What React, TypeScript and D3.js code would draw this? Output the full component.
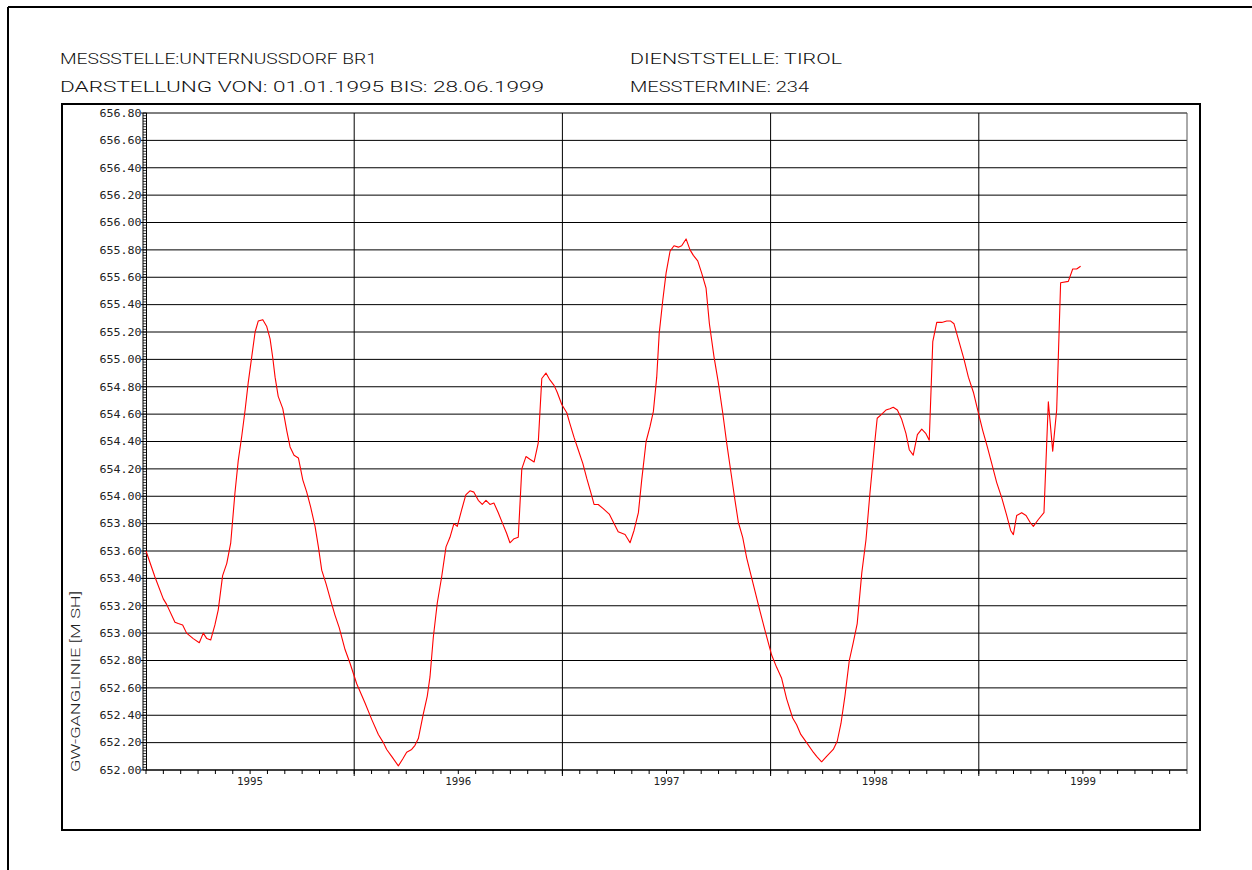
import React from "react";
import * as d3 from "d3";

// ---- data (decimal year, groundwater level in m ü.A.) ----
const measureYears: number[] = [
  1995.0, 1995.043, 1995.083, 1995.099, 1995.139, 1995.155, 1995.176, 1995.195, 1995.227, 1995.256,
  1995.275, 1995.292, 1995.311, 1995.331, 1995.347, 1995.368, 1995.388, 1995.407, 1995.427, 1995.443,
  1995.46, 1995.476, 1995.491, 1995.508, 1995.524, 1995.539, 1995.561, 1995.58, 1995.596, 1995.609,
  1995.62, 1995.635, 1995.657, 1995.676, 1995.692, 1995.711, 1995.732, 1995.753, 1995.772, 1995.791,
  1995.812, 1995.828, 1995.844, 1995.865, 1995.887, 1995.908, 1995.928, 1995.956, 1995.98,
  1996.012, 1996.052, 1996.084, 1996.116, 1996.14, 1996.156, 1996.18, 1996.212, 1996.233, 1996.252,
  1996.276, 1996.292, 1996.308, 1996.332, 1996.351, 1996.364, 1996.38, 1996.399, 1996.42, 1996.441,
  1996.46, 1996.479, 1996.495, 1996.516, 1996.536, 1996.556, 1996.575, 1996.596, 1996.615, 1996.633,
  1996.652, 1996.671, 1996.692, 1996.713, 1996.732, 1996.748, 1996.768, 1996.788, 1996.805, 1996.825,
  1996.844, 1996.864, 1996.884, 1996.901, 1996.921, 1996.94, 1996.96, 1996.975, 1996.997,
  1997.021, 1997.036, 1997.056, 1997.076, 1997.098, 1997.117, 1997.136, 1997.152, 1997.172, 1997.196,
  1997.225, 1997.245, 1997.268, 1997.301, 1997.325, 1997.344, 1997.365, 1997.381, 1997.402, 1997.421,
  1997.437, 1997.453, 1997.465, 1997.482, 1997.498, 1997.517, 1997.536, 1997.557, 1997.573, 1997.594,
  1997.613, 1997.629, 1997.65, 1997.669, 1997.69, 1997.706, 1997.728, 1997.749, 1997.77, 1997.789,
  1997.808, 1997.829, 1997.845, 1997.866, 1997.885, 1997.949, 1997.973,
  1998.005, 1998.029, 1998.053, 1998.077, 1998.106, 1998.125, 1998.145, 1998.173, 1998.205, 1998.221,
  1998.245, 1998.269, 1998.301, 1998.32, 1998.338, 1998.357, 1998.378, 1998.397, 1998.416, 1998.438,
  1998.458, 1998.477, 1998.498, 1998.512, 1998.534, 1998.554, 1998.573, 1998.589, 1998.609, 1998.63,
  1998.65, 1998.666, 1998.685, 1998.705, 1998.726, 1998.745, 1998.762, 1998.779, 1998.798, 1998.822,
  1998.846, 1998.865, 1998.881, 1998.905, 1998.929, 1998.95, 1998.974, 1998.998,
  1999.019, 1999.041, 1999.062, 1999.086, 1999.11, 1999.134, 1999.153, 1999.166, 1999.182, 1999.206,
  1999.227, 1999.246, 1999.262, 1999.286, 1999.313, 1999.334, 1999.355, 1999.374, 1999.393, 1999.43,
  1999.451, 1999.47, 1999.489,
];

const levels: number[] = [
  653.6, 653.41, 653.25, 653.21, 653.08, 653.07, 653.06, 653.0, 652.96, 652.93,
  653.0, 652.96, 652.95, 653.06, 653.17, 653.42, 653.51, 653.66, 654.02, 654.26,
  654.44, 654.63, 654.83, 655.02, 655.2, 655.28, 655.29, 655.24, 655.15, 655.01,
  654.87, 654.73, 654.64, 654.48, 654.36, 654.3, 654.28, 654.12, 654.03, 653.92,
  653.78, 653.63, 653.46, 653.36, 653.24, 653.13, 653.04, 652.88, 652.78,
  652.63, 652.49, 652.37, 652.26, 652.2, 652.15, 652.1, 652.03, 652.08, 652.13,
  652.15, 652.18, 652.23, 652.41, 652.54, 652.68, 652.97, 653.22, 653.41, 653.63,
  653.7, 653.8, 653.78, 653.9, 654.01, 654.04, 654.03, 653.97, 653.94, 653.97,
  653.94, 653.95, 653.88, 653.8, 653.73, 653.66, 653.69, 653.7, 654.2, 654.29,
  654.27, 654.25, 654.39, 654.86, 654.9, 654.85, 654.81, 654.76, 654.67,
  654.61, 654.53, 654.43, 654.34, 654.24, 654.13, 654.03, 653.94, 653.94, 653.91,
  653.87, 653.81, 653.74, 653.72, 653.66, 653.75, 653.88, 654.12, 654.4, 654.51,
  654.62, 654.87, 655.19, 655.43, 655.63, 655.79, 655.83, 655.82, 655.83, 655.88,
  655.8, 655.76, 655.72, 655.63, 655.52, 655.26, 655.02, 654.83, 654.61, 654.39,
  654.19, 653.97, 653.81, 653.7, 653.55, 653.16, 653.02,
  652.84, 652.75, 652.67, 652.52, 652.38, 652.33, 652.26, 652.2, 652.13, 652.1,
  652.06, 652.1, 652.15, 652.21, 652.34, 652.54, 652.8, 652.93, 653.07, 653.44,
  653.68, 654.02, 654.36, 654.57, 654.6, 654.63, 654.64, 654.65, 654.63, 654.56,
  654.46, 654.34, 654.3, 654.45, 654.49, 654.46, 654.41, 655.13, 655.27, 655.27,
  655.28, 655.28, 655.26, 655.13, 655.0, 654.87, 654.76, 654.61,
  654.48, 654.36, 654.24, 654.1, 653.99, 653.86, 653.75, 653.72, 653.86, 653.88,
  653.86, 653.81, 653.78, 653.83, 653.88, 654.69, 654.33, 654.63, 655.56, 655.57,
  655.66, 655.66, 655.68,
];

const yearLabels: string[] = ["1995", "1996", "1997", "1998", "1999"];
const yMin = 652.0;
const yMax = 656.8;
const yStep = 0.2;

const headerLeft1 = "MESSSTELLE:UNTERNUSSDORF BR1";
const headerLeft2 = "DARSTELLUNG VON: 01.01.1995 BIS: 28.06.1999";
const headerRight1 = "DIENSTSTELLE: TIROL";
const headerRight2 = "MESSTERMINE: 234";
const yAxisTitle = "GW-GANGLINIE [M SH]";

export default function App() {
  const W = 1252;
  const H = 870;
  const plotL = 146;
  const plotR = 1187;
  const plotT = 113;
  const plotB = 770;

  const x = d3.scaleLinear().domain([1995, 2000]).range([plotL, plotR]);
  const y = d3.scaleLinear().domain([yMin, yMax]).range([plotB, plotT]);

  const nMajor = Math.round((yMax - yMin) / yStep);
  const yTicks = d3.range(0, nMajor + 1).map((i) => yMin + i * yStep);
  const yMinor = d3.range(0, nMajor * 10 + 1).map((i) => yMin + i * yStep / 10);
  const yearBounds = d3.range(1996, 2000);
  const monthTicks = d3.range(0, 60).map((i) => 1995 + i / 12);

  const line = d3
    .line<number>()
    .x((_, i) => x(measureYears[i]))
    .y((d) => y(d));

  const hdrFont = "Roboto, 'Liberation Sans', Arial, sans-serif";
  const tickFont = "'DejaVu Sans Mono', monospace";

  return (
    <svg
      width={W}
      height={H}
      style={{ position: "absolute", left: 0, top: 0, background: "#fff" }}
    >
      <rect x={0} y={0} width={W} height={H} fill="#fff" />
      {/* outer page frame */}
      <line x1={8} y1={7} x2={W} y2={7} stroke="#000" strokeWidth={2} />
      <line x1={8} y1={7} x2={8} y2={H} stroke="#000" strokeWidth={2} />

      {/* header */}
      <g fontFamily={hdrFont} fontWeight={300} fontSize={15} fill="#111">
        <text x={60} y={64} textLength={317} lengthAdjust="spacingAndGlyphs">{headerLeft1}</text>
        <text x={60} y={92} textLength={484} lengthAdjust="spacingAndGlyphs">{headerLeft2}</text>
        <text x={630} y={64} textLength={212} lengthAdjust="spacingAndGlyphs">{headerRight1}</text>
        <text x={630} y={92} textLength={179} lengthAdjust="spacingAndGlyphs">{headerRight2}</text>
      </g>

      {/* inner frame */}
      <rect x={62} y={104} width={1138} height={726} fill="none" stroke="#000" strokeWidth={2} />

      {/* horizontal grid */}
      {yTicks.map((v) => (
        <line key={"h" + v} x1={plotL} x2={plotR} y1={y(v)} y2={y(v)} stroke="#000" strokeWidth={1} />
      ))}
      {/* vertical year lines */}
      {yearBounds.map((yr) => (
        <line key={"v" + yr} x1={x(yr)} x2={x(yr)} y1={plotT} y2={plotB + 6} stroke="#000" strokeWidth={1} />
      ))}
      <line x1={plotR} x2={plotR} y1={plotT} y2={plotB + 4} stroke="#555" strokeWidth={1} />

      {/* left ruler axis */}
      <line x1={143} x2={143} y1={plotT} y2={plotB} stroke="#000" strokeWidth={1} />
      <line x1={146.5} x2={146.5} y1={plotT} y2={plotB} stroke="#000" strokeWidth={1} />
      {yMinor.map((v, i) => (
        <line key={"m" + i} x1={143} x2={146.5} y1={y(v)} y2={y(v)} stroke="#000" strokeWidth={0.8} />
      ))}
      {yTicks.map((v) => (
        <line key={"t" + v} x1={141} x2={146} y1={y(v)} y2={y(v)} stroke="#000" strokeWidth={1} />
      ))}
      <g fontFamily={tickFont} fontSize={10.5} fill="#222" textAnchor="end">
        {yTicks.map((v) => (
          <text key={"l" + v} x={141.5} y={y(v)} dy="0.36em" textLength={42} lengthAdjust="spacingAndGlyphs">
            {v.toFixed(2)}
          </text>
        ))}
      </g>

      {/* bottom axis */}
      <line x1={plotL} x2={plotR} y1={plotB} y2={plotB} stroke="#000" strokeWidth={1} />
      {monthTicks.map((t, i) => (
        <line key={"mt" + i} x1={x(t)} x2={x(t)} y1={plotB} y2={plotB + 4} stroke="#000" strokeWidth={1} />
      ))}
      <g fontFamily={tickFont} fontSize={10.5} fill="#222" textAnchor="middle">
        {yearLabels.map((lab, i) => (
          <text key={lab} x={x(1995 + i + 0.5)} y={785} textLength={26} lengthAdjust="spacingAndGlyphs">
            {lab}
          </text>
        ))}
      </g>

      {/* y-axis title */}
      <text
        transform="translate(80,772) rotate(-90)"
        fontFamily={hdrFont}
        fontWeight={300}
        fontSize={12.5}
        fill="#222"
        textLength={181}
        lengthAdjust="spacingAndGlyphs"
      >
        {yAxisTitle}
      </text>

      {/* data line */}
      <path d={line(levels) || ""} fill="none" stroke="#ff0000" strokeWidth={1.1} strokeLinejoin="round" />
    </svg>
  );
}
